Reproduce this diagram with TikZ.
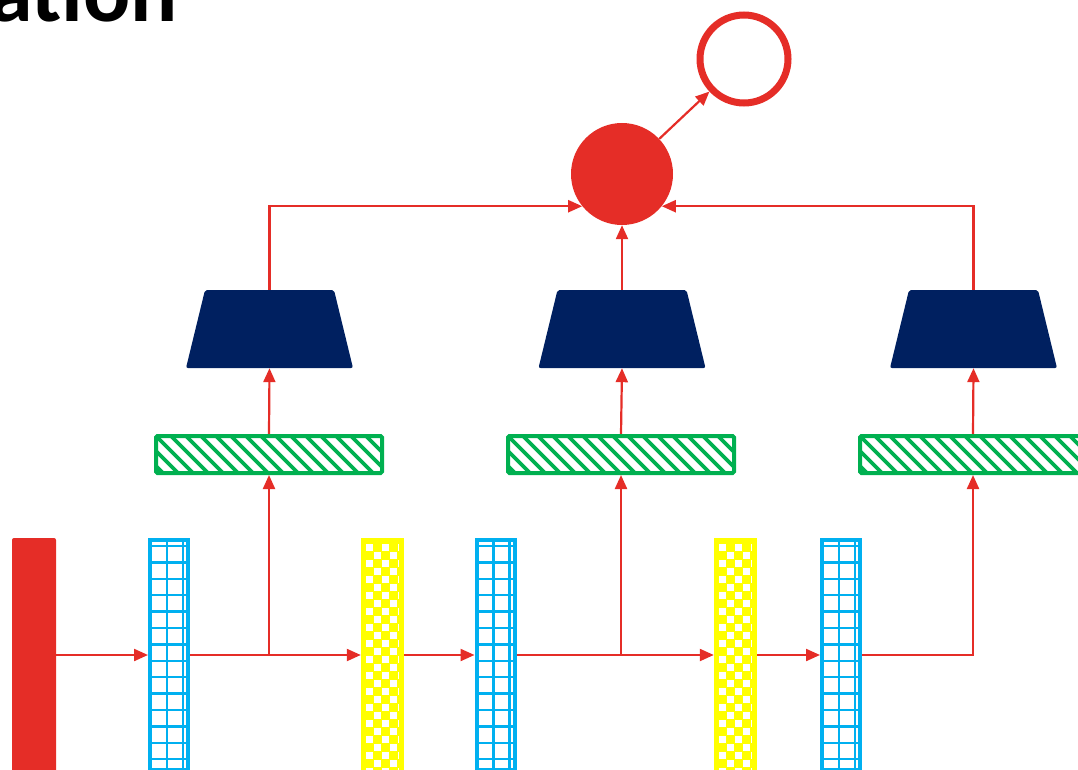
\documentclass[tikz,border=0pt]{standalone}
\usepackage{fontspec}
\newfontfamily\titlefont{Carlito}
\usetikzlibrary{arrows.meta, positioning, calc}
\definecolor{signalred}{RGB}{229, 45, 39}
\definecolor{gridcyan}{RGB}{0, 176, 240}
\definecolor{poolyellow}{RGB}{255, 255, 0}
\definecolor{projgreen}{RGB}{0, 176, 80}
\definecolor{decnavy}{RGB}{0, 32, 96}

\tikzset{
    arr/.style={draw=signalred, line width=2.2pt, -{Triangle[length=14pt, width=12pt]}},
    inbar/.style={rectangle, fill=signalred, rounded corners=2pt, inner sep=0,
        minimum width=44pt, minimum height=234pt},
    encbar/.style={rectangle, draw=gridcyan, line width=4pt, inner sep=0,
        minimum width=38pt, minimum height=230pt,
        path picture={
            \foreach \i in {0,...,13}
                \draw[gridcyan, line width=2.5pt] ([yshift=-(6+16.4*\i)*1pt]path picture bounding box.north west) -- ++(60pt,0);
            \foreach \j in {17,33}
                \draw[gridcyan, line width=2.5pt] ([xshift=\j*1pt]path picture bounding box.north west) -- ++(0,-260pt);
        }},
    poolbar/.style={rectangle, fill=poolyellow, inner sep=0,
        minimum width=43pt, minimum height=234pt,
        path picture={
            \foreach \r in {0,...,14}
                \foreach \c in {0,1,2} {
                    \fill[white] ([xshift=(5+16*\c)*1pt, yshift=-(6+16*\r)*1pt]path picture bounding box.north west) rectangle ++(7pt,-7pt);
                    \fill[white] ([xshift=(13+16*\c)*1pt, yshift=-(14+16*\r)*1pt]path picture bounding box.north west) rectangle ++(7pt,-7pt);
                }
            \fill[poolyellow] ([xshift=38pt]path picture bounding box.north west) rectangle (path picture bounding box.south east);
        }},
    projbox/.style={rectangle, draw=projgreen, line width=4pt, rounded corners=1.5pt, inner sep=0,
        minimum width=226pt, minimum height=37pt,
        path picture={
            \foreach \k in {-3,...,16}
                \draw[projgreen, line width=3.8pt] ([xshift=(15*\k)*1pt]path picture bounding box.north west) -- ++(45pt,-45pt);
        }},
    decblock/.style={rectangle, inner sep=0, minimum width=167pt, minimum height=78pt,
        path picture={
            \fill[decnavy, rounded corners=2pt] (path picture bounding box.south west)
                -- ([xshift=19pt]path picture bounding box.north west)
                -- ([xshift=-19pt]path picture bounding box.north east)
                -- (path picture bounding box.south east) -- cycle;
        }},
}

\begin{document}
\begin{tikzpicture}[x=1pt, y=-1pt]
    \useasboundingbox (0,0) rectangle (1078,770);

    % Title (cut at the page edge)
    \node[anchor=base east, inner sep=0, font=\titlefont\bfseries\fontsize{88}{90}\selectfont] (title) at (178,22) {ation};

    % Input and encoder / pooling bars
    \node[inbar] (inp) at (34,655) {};
    \node[encbar] (enc1) at (169,655) {};
    \node[poolbar] (pool1) at (382.5,655) {};
    \node[encbar] (enc2) at (495.5,655) {};
    \node[poolbar] (pool2) at (735.5,655) {};
    \node[encbar] (enc3) at (841,655) {};

    % Projection boxes
    \node[projbox] (proj1) at (269,454.5) {};
    \node[projbox] (proj2) at (621,454.5) {};
    \node[projbox] (proj3) at (973,454.5) {};

    % Decoders
    \node[decblock] (dec1) at (269.5,329) {};
    \node[decblock] (dec2) at (622,329) {};
    \node[decblock] (dec3) at (973.5,329) {};

    % Fusion and output
    \node[circle, fill=signalred, inner sep=0, minimum size=102pt] (sum) at (622,174) {};
    \node[circle, draw=signalred, line width=7pt, inner sep=0, minimum size=88pt] (out) at (744,59) {};

    % Main chain
    \draw[arr] (inp) -- (enc1);
    \draw[arr] (enc1) -- (pool1);
    \draw[arr] (pool1) -- (enc2);
    \draw[arr] (enc2) -- (pool2);
    \draw[arr] (pool2) -- (enc3);

    % Branches up
    \draw[arr] (proj1.south |- enc1.east) -- (proj1.south);
    \draw[arr] (proj2.south |- enc2.east) -- (proj2.south);
    \draw[arr] (enc3.east) -| (proj3.south);
    \draw[arr] (proj1.north) -- (dec1.south);
    \draw[arr] (proj2.north) -- (dec2.south);
    \draw[arr] (proj3.north) -- (dec3.south);

    % Into the fusion node
    \draw[arr] (dec1.north) |- (sum.219);
    \draw[arr] (dec2.north) -- (sum.south);
    \draw[arr] (dec3.north) |- (sum.321);
    \draw[arr] (sum) -- (out);
\end{tikzpicture}
\end{document}
